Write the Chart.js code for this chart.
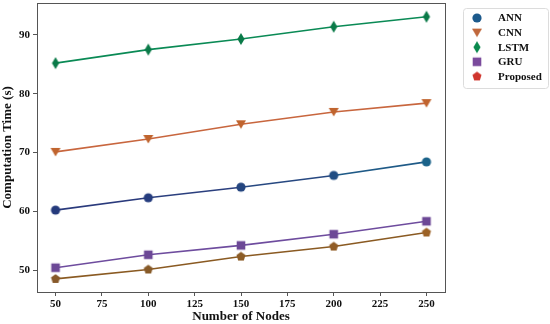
<!DOCTYPE html>
<html>
<head>
<meta charset="utf-8">
<script src="https://cdn.jsdelivr.net/npm/chart.js@4.4.1/dist/chart.umd.min.js"></script>
<style>
  html, body { margin: 0; padding: 0; background: #fff; }
  #wrap { position: relative; width: 550px; height: 324px; }
</style>
</head>
<body>
<div id="wrap"><canvas id="chart" width="550" height="324"></canvas></div>
<script>
// data
const nodes = [50, 100, 150, 200, 250];
const annTimes = [60.2, 62.3, 64.1, 66.1, 68.4];
const cnnTimes = [70.1, 72.3, 74.8, 76.9, 78.4];
const lstmTimes = [85.2, 87.5, 89.3, 91.4, 93.1];
const gruTimes = [50.4, 52.6, 54.2, 56.1, 58.3];
const proposedTimes = [48.5, 50.1, 52.3, 54.0, 56.4];
const xTicks = [50, 75, 100, 125, 150, 175, 200, 225, 250];
const yTicks = [50, 60, 70, 80, 90];
const seriesNames = ['ANN', 'CNN', 'LSTM', 'GRU', 'Proposed'];

const FONT = '"Liberation Serif", "Times New Roman", serif';

// draws marker shapes into a small canvas so they can be used as pointStyle
function marker(shape, color) {
  const c = document.createElement('canvas');
  const s = 14;
  c.width = s; c.height = s;
  const g = c.getContext('2d');
  const m = s / 2;
  g.fillStyle = color;
  g.beginPath();
  if (shape === 'circle') {
    g.arc(m, m, 4.6, 0, Math.PI * 2);
  } else if (shape === 'tri') {
    g.moveTo(m - 5, m - 4);
    g.lineTo(m + 5, m - 4);
    g.lineTo(m, m + 4.5);
  } else if (shape === 'diamond') {
    g.moveTo(m, m - 6);
    g.lineTo(m + 3.6, m);
    g.lineTo(m, m + 6);
    g.lineTo(m - 3.6, m);
  } else if (shape === 'square') {
    g.rect(m - 4.3, m - 4.3, 8.6, 8.6);
  } else if (shape === 'pent') {
    for (let i = 0; i < 5; i++) {
      const a = -Math.PI / 2 + i * 2 * Math.PI / 5;
      const x = m + 4.8 * Math.cos(a), y = m + 4.8 * Math.sin(a);
      if (i === 0) g.moveTo(x, y); else g.lineTo(x, y);
    }
  }
  g.closePath();
  g.fill();
  return c;
}

const annColors = ['#243a7c', '#253c7e', '#24457f', '#214e84', '#1a6289'];
const annSeg = ['#2a3a7c', '#2b3f7e', '#274881', '#1f5a87'];
const propColors = ['#87592a', '#875a28', '#8c5c26', '#915d26', '#9c6226'];

function mkSet(label, data, lineColor, points, segColors) {
  return {
    label: label,
    data: data,
    borderColor: lineColor,
    backgroundColor: lineColor,
    borderWidth: 1.6,
    pointStyle: points,
    pointRadius: 5,
    pointHoverRadius: 5,
    tension: 0,
    fill: false,
    segment: segColors ? { borderColor: ctx => segColors[ctx.p0DataIndex] } : undefined
  };
}

const datasets = [
  mkSet('ANN', annTimes, '#2a3a7c', annColors.map(c => marker('circle', c)), annSeg),
  mkSet('CNN', cnnTimes, '#c8663e', nodes.map(() => marker('tri', '#c0642e'))),
  mkSet('LSTM', lstmTimes, '#0a8a55', nodes.map(() => marker('diamond', '#0a7a48'))),
  mkSet('GRU', gruTimes, '#6e4c9e', nodes.map(() => marker('square', '#6c4896'))),
  mkSet('Proposed', proposedTimes, '#8a5a22', propColors.map(c => marker('pent', c)))
];

// legend uses the clean palette colours
const legendItems = [
  { shape: 'circle', color: '#1c5a8c' },
  { shape: 'tri', color: '#c0683c' },
  { shape: 'diamond', color: '#0a8a4e' },
  { shape: 'square', color: '#7a4a9c' },
  { shape: 'pent', color: '#d0362e' }
];

const framePlugin = {
  id: 'frame',
  afterDatasetsDraw(chart) {
    const a = chart.chartArea;
    const g = chart.ctx;
    g.save();
    g.strokeStyle = '#555';
    g.lineWidth = 1;
    g.strokeRect(Math.round(a.left) + 0.5, Math.round(a.top) + 0.5,
      Math.round(a.right - a.left), Math.round(a.bottom - a.top));
    g.restore();
  },
  afterDraw(chart) {
    const g = chart.ctx;
    g.save();
    const bx = 463, by = 8, bw = 85, bh = 80;
    g.fillStyle = '#fff';
    g.strokeStyle = '#dcdcdc';
    g.lineWidth = 1;
    g.beginPath();
    g.roundRect(bx + 0.5, by + 0.5, bw, bh, 3);
    g.fill();
    g.stroke();
    g.font = 'bold 11px ' + FONT;
    g.fillStyle = '#111';
    g.textBaseline = 'middle';
    seriesNames.forEach((name, i) => {
      const y = 18 + i * 14.6;
      const m = marker(legendItems[i].shape, legendItems[i].color);
      g.drawImage(m, 477 - 7, y - 7);
      g.fillText(name, 498, y + 0.5);
    });
    g.restore();
  }
};

new Chart(document.getElementById('chart'), {
  type: 'line',
  data: { labels: nodes, datasets: datasets.map(d => ({ ...d, data: d.data.map((v, i) => ({ x: nodes[i], y: v })) })) },
  options: {
    responsive: false,
    animation: false,
    layout: { autoPadding: false, padding: { left: 0, right: 105, top: 3, bottom: 0 } },
    plugins: { legend: { display: false }, tooltip: { enabled: false } },
    scales: {
      x: {
        type: 'linear',
        min: 40, max: 260,
        afterBuildTicks: s => { s.ticks = xTicks.map(v => ({ value: v })); },
        afterFit: s => { s.height = 32; s.paddingLeft = 0; s.paddingRight = 0; },
        grid: { display: true, drawOnChartArea: false, tickLength: 4, color: '#555' },
        border: { display: false },
        ticks: { font: { family: FONT, size: 11, weight: 'bold' }, color: '#111', padding: 2, maxRotation: 0 },
        title: { display: true, text: 'Number of Nodes', font: { family: FONT, size: 13, weight: 'bold' }, color: '#111', padding: { top: 0, bottom: 0 } }
      },
      y: {
        min: 46.27, max: 95.43,
        afterBuildTicks: s => { s.ticks = yTicks.map(v => ({ value: v })); },
        afterFit: s => { s.width = 37; s.paddingTop = 0; s.paddingBottom = 0; },
        grid: { display: true, drawOnChartArea: false, tickLength: 4, color: '#555' },
        border: { display: false },
        ticks: { font: { family: FONT, size: 11, weight: 'bold' }, color: '#111', padding: 3 },
        title: { display: true, text: 'Computation Time (s)', font: { family: FONT, size: 13, weight: 'bold' }, color: '#111', padding: { top: 0, bottom: 0 } }
      }
    }
  },
  plugins: [framePlugin]
});
</script>
</body>
</html>
